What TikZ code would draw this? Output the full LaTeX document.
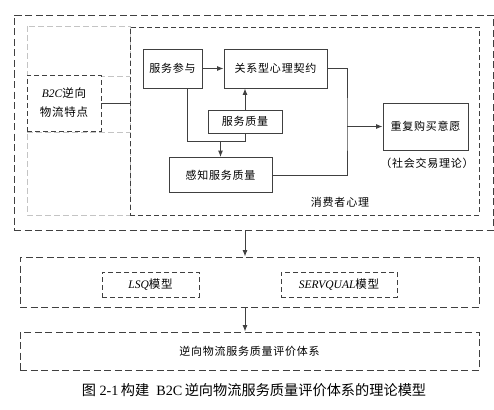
\documentclass[tikz,border=0pt]{standalone}
\usepackage{fontspec}
\setmainfont{Liberation Serif}
\newfontfamily\cjk[LetterSpace=7]{Noto Sans CJK SC}
\newfontfamily\cjkcap{Noto Sans CJK SC}
\usetikzlibrary{arrows.meta}
\definecolor{ln}{HTML}{404040}
\definecolor{gr}{HTML}{C4C4C4}
\tikzset{
  solidbox/.style={draw=ln,line width=0.9pt,rectangle,inner sep=0pt,font=\fontsize{11}{12}\cjk},
  outerdash/.style={draw=ln,line width=0.9pt,dash pattern=on 7pt off 3.5pt},
  innerdash/.style={draw=ln,line width=0.9pt,dash pattern=on 5pt off 3pt},
  graydash/.style={draw=gr,line width=0.9pt,dash pattern=on 6pt off 3pt},
  conn/.style={draw=ln,line width=0.9pt},
  arr/.style={conn,-{Latex[length=6.5pt,width=5pt]}},
  lbl/.style={inner sep=0pt,font=\fontsize{11}{12}\cjk,text=black}
}
\begin{document}
\begin{tikzpicture}[x=1pt,y=-1pt]
\useasboundingbox (0,0) rectangle (494,409);
% outer dashed frame
\node[outerdash,minimum width=479pt,minimum height=215pt,inner sep=0pt] (outer) at (253.5,122.5) {};
% gray left column
\draw[graydash] (27,26) rectangle (130,215);
\draw[graydash] (27,76) -- (130,76);
\draw[graydash] (27,132) -- (130,132);
% inner dashed (consumer psychology)
\node[innerdash,minimum width=349pt,minimum height=188pt,inner sep=0pt] (inner) at (304.5,121) {};
\node[lbl] (xfz) at (340,202) {消费者心理};
% B2C box
\node[innerdash,fill=white,minimum width=74pt,minimum height=56pt,inner sep=0pt,align=center,font=\fontsize{11.5}{19}\selectfont] (b2c) at (64,103)
  {{\itshape B2C}{\cjk 逆向}\\{\cjk 物流特点}};
% solid boxes
\node[solidbox,minimum width=59pt,minimum height=39pt] (sa) at (172.5,68.5) {服务参与};
\node[solidbox,minimum width=103pt,minimum height=39pt] (gx) at (275.5,68.5) {关系型心理契约};
\node[solidbox,minimum width=74pt,minimum height=23pt] (zl) at (245,121.5) {服务质量};
\node[solidbox,minimum width=103pt,minimum height=35pt] (gz) at (220.5,175) {感知服务质量};
\node[solidbox,minimum width=85pt,minimum height=47pt] (cf) at (425.5,126.5) {重复购买意愿};
\node[lbl] (shjy) at (427,163) {（社会交易理论）};
% connectors
\coordinate (j) at (220,141);
\coordinate (bus) at (347,126.5);
\draw[arr] (sa.east) -- (gx.west);
\draw[arr] (zl.north) -- (zl.north |- gx.south);
\draw[conn] ([xshift=14.5pt]sa.south) |- (zl.south |- j) -- (zl.south);
\draw[arr] (gz.north |- j) -- (gz.north);
\draw[conn] (gx.east) -| (bus) |- (gz.east);
\draw[arr] (bus) -- (cf.west);
\draw[conn] (b2c.east) -- (b2c.east -| inner.west);
% lower section
\node[outerdash,minimum width=459pt,minimum height=50pt,inner sep=0pt] (row2) at (249.5,282) {};
\node[innerdash,minimum width=97pt,minimum height=25pt,inner sep=0pt,font=\fontsize{11.5}{12}\selectfont] (lsq) at (150.5,284.5) {{\itshape LSQ}{\cjk 模型}};
\node[innerdash,minimum width=116pt,minimum height=25pt,inner sep=0pt,font=\fontsize{11.5}{12}\selectfont] (serv) at (339,284.5) {{\itshape SERVQUAL}{\cjk 模型}};
\node[outerdash,minimum width=459pt,minimum height=38pt,inner sep=0pt,font=\fontsize{11}{12}\cjk] (bot) at (249.5,351) {逆向物流服务质量评价体系};
\coordinate (ax) at (245,0);
\draw[arr] (ax |- outer.south) -- (ax |- row2.north);
\draw[arr] (ax |- row2.south) -- (ax |- bot.north);
% caption
\node[inner sep=0pt,font=\fontsize{14.2}{16}\selectfont] (cap) at (254,390)
  {{\cjkcap 图}\ 2-1\,{\cjkcap 构建}\ \ B2C\,{\cjkcap 逆向物流服务质量评价体系的理论模型}};
\end{tikzpicture}
\end{document}
